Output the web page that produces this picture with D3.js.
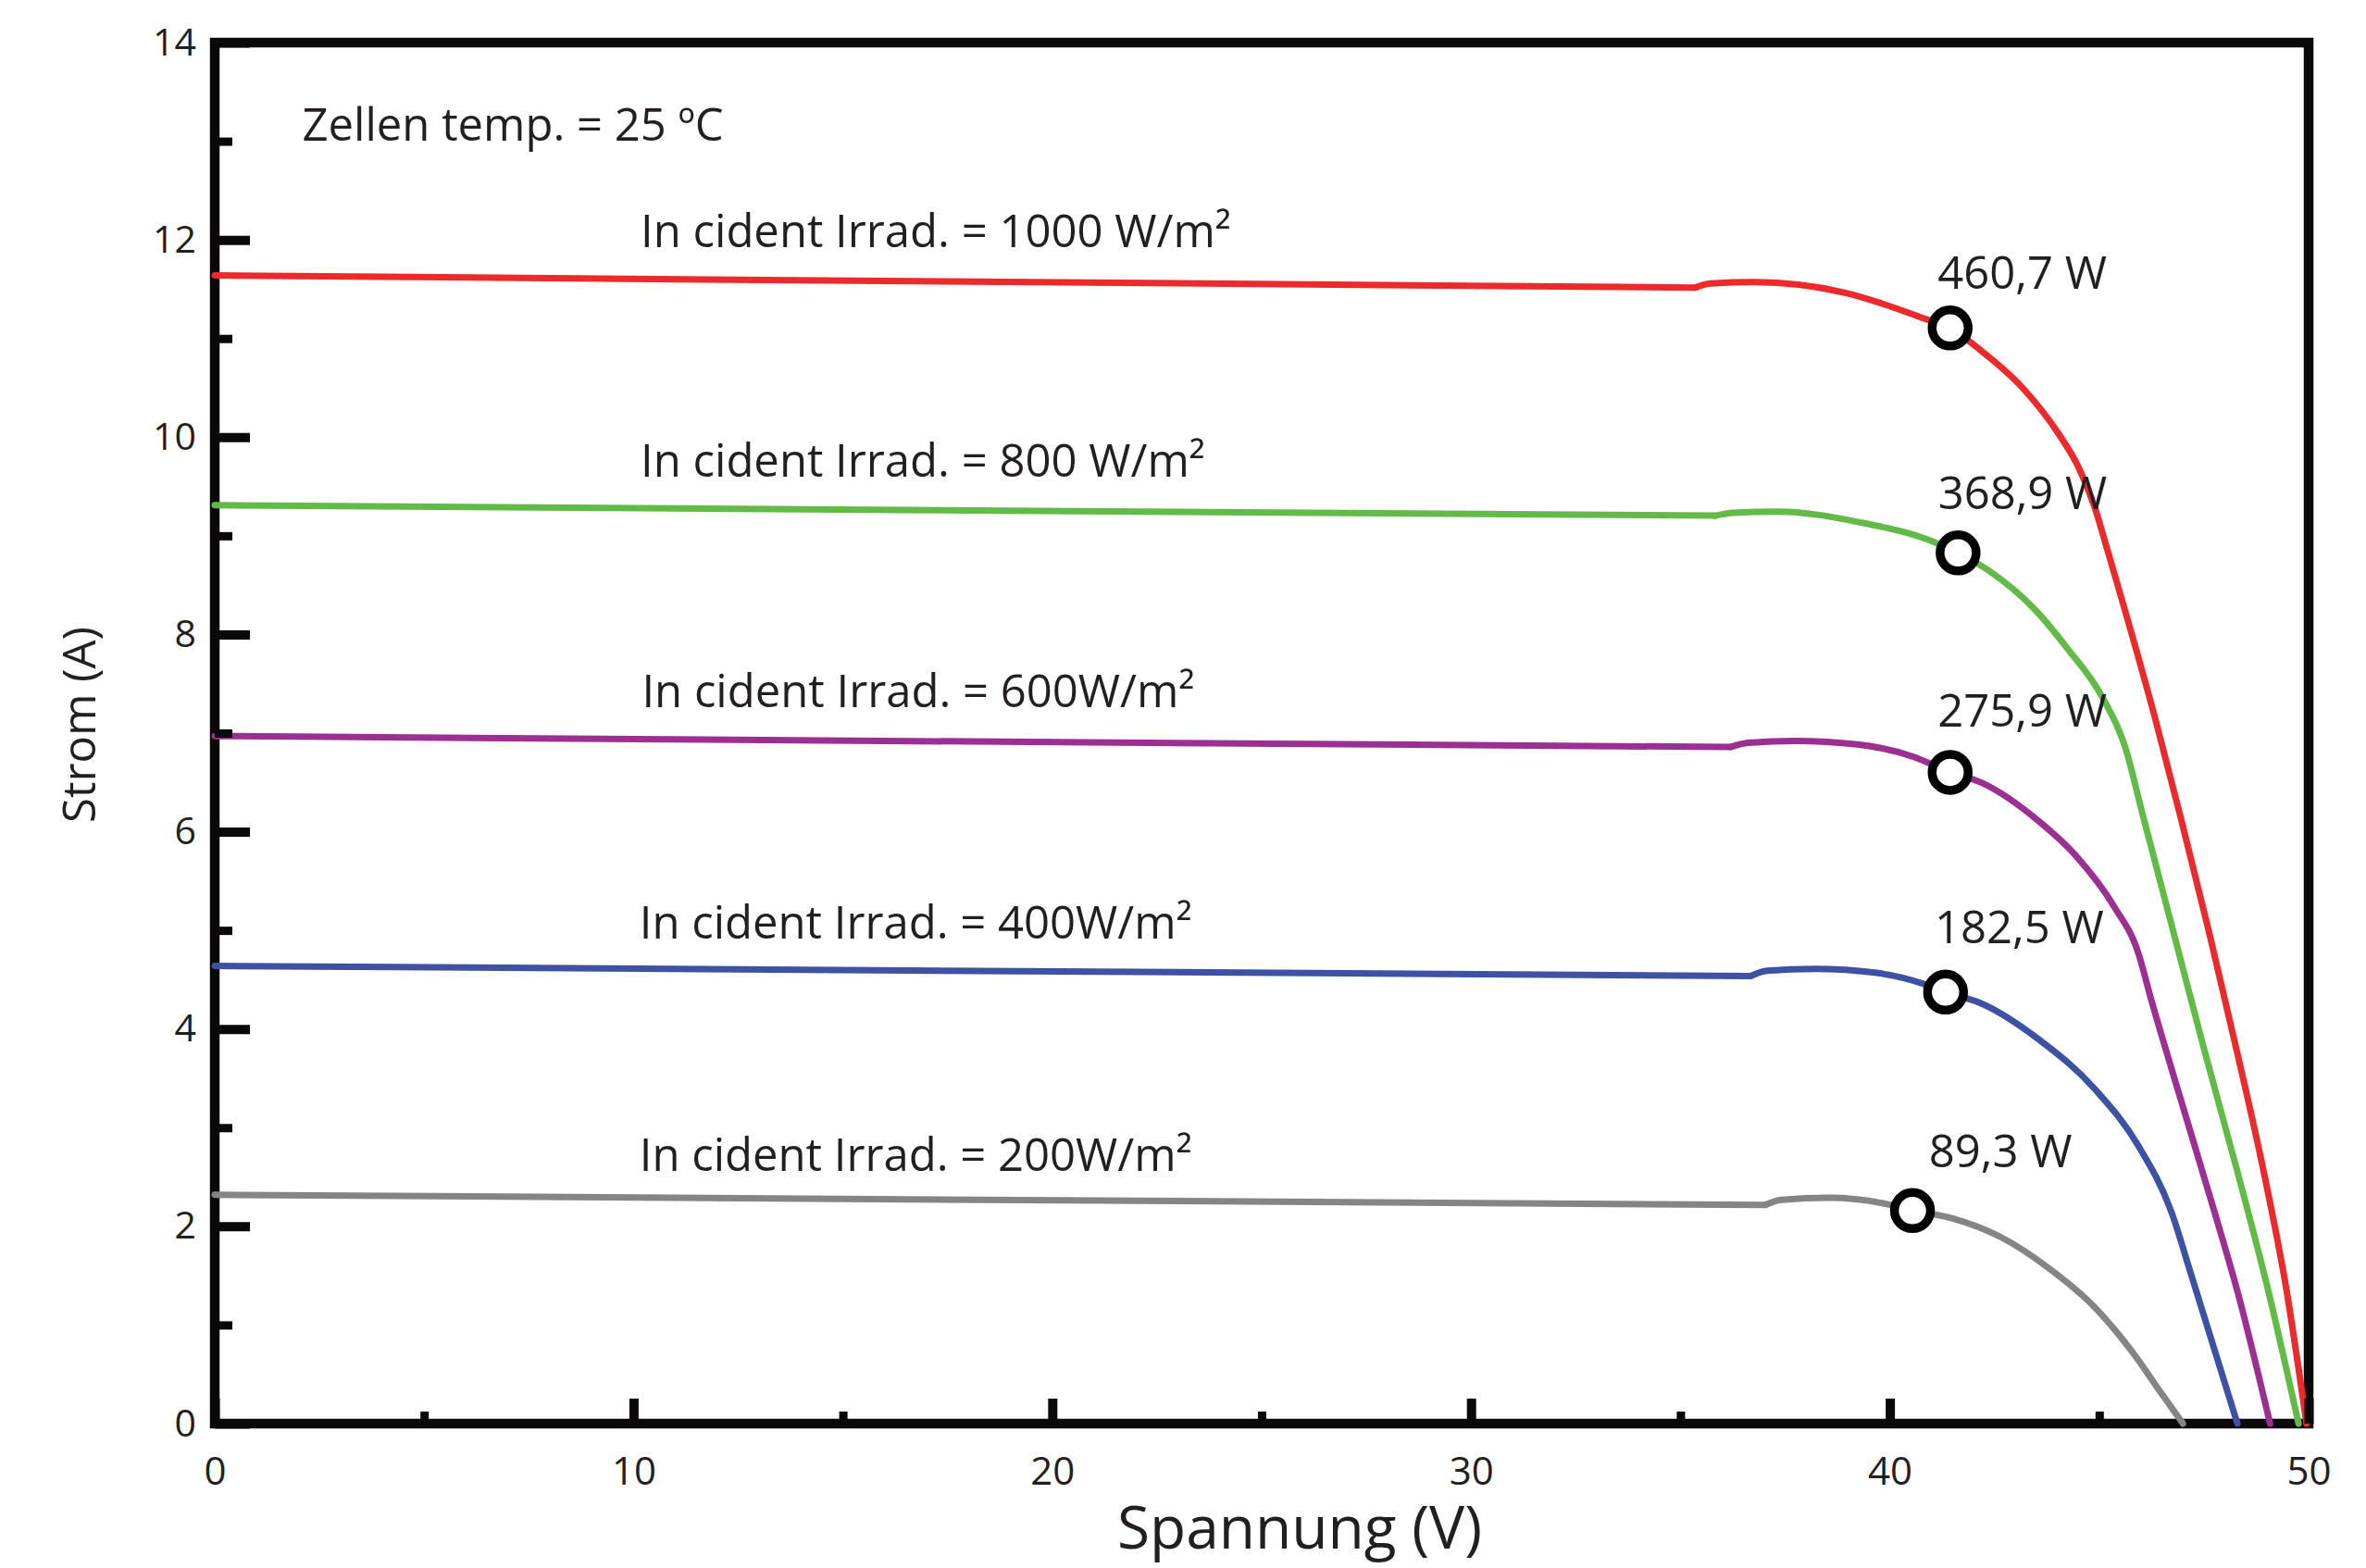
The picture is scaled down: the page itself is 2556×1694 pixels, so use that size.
<!DOCTYPE html>
<html>
<head>
<meta charset="utf-8">
<script src="https://cdn.jsdelivr.net/npm/d3@7"></script>
<style>
  html, body { margin: 0; padding: 0; background: #ffffff; }
  svg { display: block; }
  text { font-family: "Open Sans", "Noto Sans", sans-serif; fill: #231f20; }
</style>
</head>
<body>
<svg id="chart" width="2556" height="1694"></svg>
<script>
// ---------------- data ----------------
const irradiance = [1000, 800, 600, 400, 200];
const irradianceLabels = [
  "In cident Irrad. = 1000 W/m²",
  "In cident Irrad. = 800 W/m²",
  "In cident Irrad. = 600W/m²",
  "In cident Irrad. = 400W/m²",
  "In cident Irrad. = 200W/m²"
];
// I-V curves: [voltage V, current A]
const curve1000 = [[0,11.64],[35.35,11.516],[35.72,11.558],[36.79,11.571],[38.91,11.466],[40.88,11.194],[41.44,11.107],[42.11,10.90],[43.17,10.50],[44.02,10.04],[44.5,9.70],[44.9,9.28],[45.2,8.85],[46.36,7.11],[46.93,6.17],[47.63,4.97],[48.29,3.77],[48.92,2.57],[49.47,1.36],[49.95,0]];
const curve800  = [[0,9.31],[35.83,9.204],[36.26,9.233],[37.32,9.245],[39.23,9.141],[41.09,8.931],[41.63,8.827],[42.32,8.659],[43.49,8.241],[44.23,7.863],[45.08,7.36],[45.62,6.858],[46.04,6.17],[46.78,4.97],[47.52,3.77],[48.29,2.57],[49.03,1.36],[49.76,0]];
const curve600  = [[0,6.97],[36.19,6.859],[36.62,6.901],[37.75,6.921],[39.23,6.885],[40.59,6.756],[41.44,6.602],[42.18,6.499],[43.54,6.113],[44.45,5.753],[45.36,5.238],[45.93,4.775],[46.24,4.30],[46.84,3.437],[47.75,2.15],[48.31,1.327],[49.08,0]];
const curve400  = [[0,4.64],[36.68,4.538],[37.07,4.59],[38.21,4.61],[39.69,4.569],[40.82,4.456],[41.33,4.374],[42.18,4.26],[43.54,3.90],[44.91,3.385],[45.93,2.819],[46.72,2.15],[47.18,1.532],[48.30,0]];
const curve200  = [[0,2.32],[37.02,2.217],[37.41,2.269],[38.55,2.289],[39.91,2.227],[40.54,2.16],[41.50,2.08],[42.64,1.893],[43.77,1.584],[44.91,1.172],[45.82,0.709],[46.50,0.297],[47.0,0]];
const curves = [curve1000, curve800, curve600, curve400, curve200];

// maximum power points
const mppVoltage = [41.44, 41.63, 41.44, 41.33, 40.54];
const mppCurrent = [11.107, 8.827, 6.602, 4.374, 2.16];
const mppPowerLabels = ["460,7 W", "368,9 W", "275,9 W", "182,5 W", "89,3 W"];

// axis ticks
const voltageMajorTicks = [0, 10, 20, 30, 40, 50];
const voltageMinorTicks = [5, 15, 25, 35, 45];
const currentMajorTicks = [0, 2, 4, 6, 8, 10, 12, 14];
const currentMinorTicks = [1, 3, 5, 7, 9, 11, 13];

// annotation anchors in data units [V, A]
const temperatureLabel = "Zellen temp. = 25 ºC";
const temperatureLabelAt = [2.09, 13.01];
const irradianceLabelAt = [[10.17, 11.93], [10.17, 9.60], [10.2, 7.26], [10.14, 4.92], [10.14, 2.56]];
const powerLabelAt = [[41.14, 11.50], [41.15, 9.267], [41.14, 7.066], [41.07, 4.867], [40.93, 2.603]];

// ---------------- styles ----------------
const seriesColors = ["#ea2a2b", "#63bb47", "#9c2f92", "#3e52a3", "#858585"];
const ink = "#0b0809";

// ---------------- drawing ----------------
const svg = d3.select("#chart");
svg.append("rect").attr("width", 2556).attr("height", 1694).attr("fill", "#ffffff");

const x = d3.scaleLinear().domain([0, 50]).range([232, 2494]);
const y = d3.scaleLinear().domain([0, 14]).range([1538, 46]);

// frame
svg.append("rect")
  .attr("x", x(0)).attr("y", y(14))
  .attr("width", x(50) - x(0)).attr("height", y(0) - y(14))
  .attr("fill", "none").attr("stroke", ink).attr("stroke-width", 10.5);

// curves
const lineFlat = d3.line().x(d => x(d[0])).y(d => y(d[1]));
const lineBend = d3.line().x(d => x(d[0])).y(d => y(d[1])).curve(d3.curveMonotoneX);
const gCurves = svg.append("g");
curves.forEach((pts, i) => {
  gCurves.append("path").attr("d", lineFlat(pts.slice(0, 2)))
    .attr("fill", "none").attr("stroke", seriesColors[i]).attr("stroke-width", 7)
    .attr("stroke-linecap", "round");
  gCurves.append("path").attr("d", lineBend(pts.slice(1)))
    .attr("fill", "none").attr("stroke", seriesColors[i]).attr("stroke-width", 7)
    .attr("stroke-linecap", "round").attr("stroke-linejoin", "round");
});

// axes
function styleAxis(g, width, fontSize) {
  g.select(".domain").remove();
  g.attr("font-family", null).attr("font-size", null);
  g.selectAll(".tick line").attr("stroke", ink).attr("stroke-width", width);
  g.selectAll(".tick text").attr("font-size", fontSize).attr("fill", "#231f20");
}
const gYMajor = svg.append("g").attr("transform", `translate(${x(0)},0)`)
  .call(d3.axisLeft(y).tickValues(currentMajorTicks).tickSizeInner(-38).tickSizeOuter(0).tickPadding(20).tickFormat(d3.format("d")));
styleAxis(gYMajor, 10, 41);
const gYMinor = svg.append("g").attr("transform", `translate(${x(0)},0)`)
  .call(d3.axisLeft(y).tickValues(currentMinorTicks).tickSizeInner(-19).tickSizeOuter(0).tickFormat(() => ""));
styleAxis(gYMinor, 9, 41);
const gXMajor = svg.append("g").attr("transform", `translate(0,${y(0)})`)
  .call(d3.axisBottom(x).tickValues(voltageMajorTicks).tickSizeInner(-27).tickSizeOuter(0).tickPadding(36).tickFormat(d3.format("d")));
styleAxis(gXMajor, 10, 42);
const gXMinor = svg.append("g").attr("transform", `translate(0,${y(0)})`)
  .call(d3.axisBottom(x).tickValues(voltageMinorTicks).tickSizeInner(-13).tickSizeOuter(0).tickFormat(() => ""));
styleAxis(gXMinor, 9, 42);

// axis titles
svg.append("text")
  .attr("transform", `translate(103,783) rotate(-90)`)
  .attr("text-anchor", "middle").attr("font-size", 49)
  .text("Strom (A)");
svg.append("text")
  .attr("x", 1404).attr("y", 1673)
  .attr("text-anchor", "middle").attr("font-size", 64)
  .text("Spannung (V)");

// MPP markers
svg.append("g").selectAll("circle")
  .data(mppVoltage)
  .join("circle")
  .attr("cx", d => x(d))
  .attr("cy", (d, i) => y(mppCurrent[i]))
  .attr("r", 19.5)
  .attr("fill", "#ffffff").attr("stroke", "#000000").attr("stroke-width", 9.5);

// power labels
svg.append("g").selectAll("text")
  .data(mppPowerLabels)
  .join("text")
  .attr("x", (d, i) => x(powerLabelAt[i][0]))
  .attr("y", (d, i) => y(powerLabelAt[i][1]))
  .attr("font-size", 49)
  .text(d => d);

// irradiance labels
svg.append("g").selectAll("text")
  .data(irradianceLabels)
  .join("text")
  .attr("x", (d, i) => x(irradianceLabelAt[i][0]))
  .attr("y", (d, i) => y(irradianceLabelAt[i][1]))
  .attr("font-size", 49)
  .text(d => d);

// temperature label
svg.append("text")
  .attr("x", x(temperatureLabelAt[0]))
  .attr("y", y(temperatureLabelAt[1]))
  .attr("font-size", 49)
  .text(temperatureLabel);
</script>
</body>
</html>
